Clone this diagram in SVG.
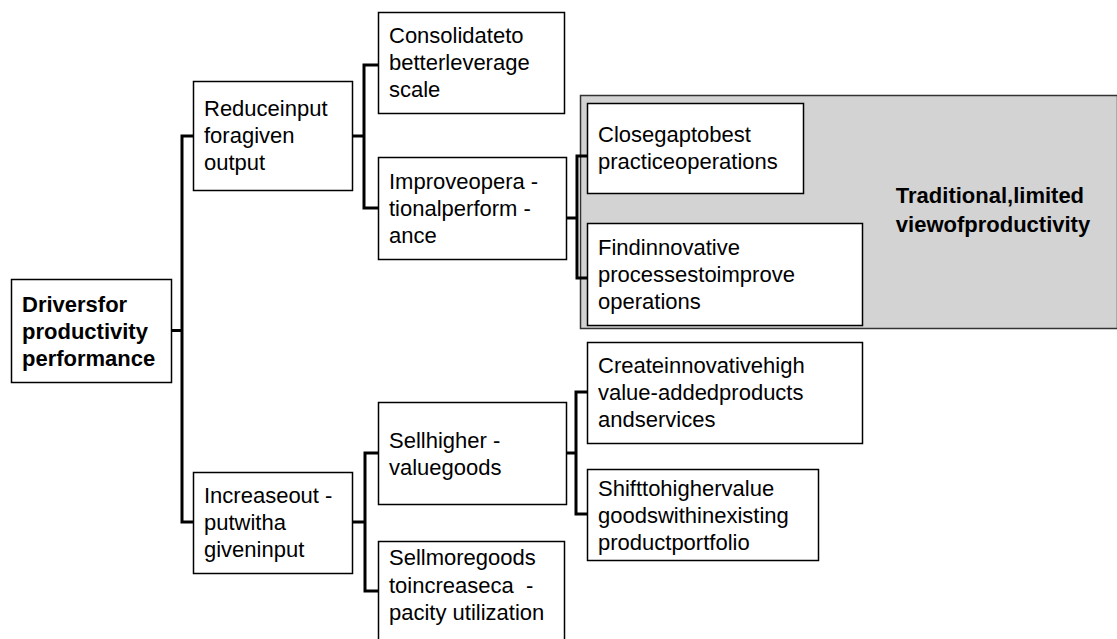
<svg xmlns="http://www.w3.org/2000/svg" width="1117" height="639" viewBox="0 0 1117 639">
  <style>
    .box { fill: #ffffff; stroke: #000000; stroke-width: 1.5; }
    .zone { fill: #d3d3d3; stroke: #333333; stroke-width: 1.5; }
    .lbl { font-family: "Liberation Sans", Arial, sans-serif; font-size: 22px; fill: #000000; }
    .pre { white-space: pre; }
    .bold { font-weight: bold; }
    .wire { fill: none; stroke: #000000; stroke-width: 3; stroke-linecap: square; }
  </style>

  <rect width="1117" height="639" fill="#ffffff"/>

  <!-- shaded area: the traditional view -->
  <g id="traditional-view">
    <rect class="zone" x="580.5" y="95.5" width="537" height="233"/>
    <text class="lbl bold" text-anchor="middle">
      <tspan x="993" y="203">Traditional,limited</tspan>
      <tspan x="993" y="232">viewofproductivity</tspan>
    </text>
  </g>

  <!-- tree connectors -->
  <g id="connectors">
    <path class="wire" d="M171 330.5 H182 M182 136 V522 M182 136 H193 M182 522 H193"/>
    <path class="wire" d="M352 136 H364 M364 65 V208 M364 65 H378 M364 208 H378"/>
    <path class="wire" d="M566 218 H577 M577 156 V278 M577 156 H587 M577 278 H587"/>
    <path class="wire" d="M352 522 H365 M365 453 V591 M365 453 H378 M365 591 H378"/>
    <path class="wire" d="M566 453 H576 M576 392 V514 M576 392 H587 M576 514 H587"/>
  </g>

  <g id="root">
    <rect class="box" x="11.5" y="279.5" width="160" height="103"/>
    <text class="lbl bold">
      <tspan x="22" y="312">Driversfor</tspan>
      <tspan x="22" y="339">productivity</tspan>
      <tspan x="22" y="366">performance</tspan>
    </text>
  </g>

  <g id="reduce-input">
    <rect class="box" x="193.5" y="81.5" width="159" height="109"/>
    <text class="lbl">
      <tspan x="204" y="116">Reduceinput</tspan>
      <tspan x="204" y="143">foragiven</tspan>
      <tspan x="204" y="170">output</tspan>
    </text>
  </g>

  <g id="increase-output">
    <rect class="box" x="193.5" y="472.5" width="159" height="101"/>
    <text class="lbl">
      <tspan x="204" y="503">Increaseout -</tspan>
      <tspan x="204" y="530">putwitha</tspan>
      <tspan x="204" y="557">giveninput</tspan>
    </text>
  </g>

  <g id="consolidate">
    <rect class="box" x="378.5" y="12.5" width="186" height="101"/>
    <text class="lbl">
      <tspan x="389" y="43">Consolidateto</tspan>
      <tspan x="389" y="70">betterleverage</tspan>
      <tspan x="389" y="97">scale</tspan>
    </text>
  </g>

  <g id="improve-operations">
    <rect class="box" x="378.5" y="157.5" width="188" height="102"/>
    <text class="lbl">
      <tspan x="389" y="189">Improveopera -</tspan>
      <tspan x="389" y="216">tionalperform -</tspan>
      <tspan x="389" y="243">ance</tspan>
    </text>
  </g>

  <g id="close-gap">
    <rect class="box" x="587.5" y="103.5" width="216" height="90"/>
    <text class="lbl">
      <tspan x="598" y="142">Closegaptobest</tspan>
      <tspan x="598" y="169">practiceoperations</tspan>
    </text>
  </g>

  <g id="find-processes">
    <rect class="box" x="587.5" y="223.5" width="275" height="102"/>
    <text class="lbl">
      <tspan x="598" y="255">Findinnovative</tspan>
      <tspan x="598" y="282">processestoimprove</tspan>
      <tspan x="598" y="309">operations</tspan>
    </text>
  </g>

  <g id="sell-higher-value">
    <rect class="box" x="378.5" y="402.5" width="188" height="102"/>
    <text class="lbl">
      <tspan x="389" y="448">Sellhigher -</tspan>
      <tspan x="389" y="475">valuegoods</tspan>
    </text>
  </g>

  <g id="sell-more">
    <rect class="box" x="378.5" y="541.5" width="186" height="110"/>
    <text class="lbl" x="389" y="565">Sellmoregoods</text>
    <text class="lbl pre" x="389" y="593">toincreaseca  -</text>
    <text class="lbl" x="389" y="620">pacity utilization</text>
  </g>

  <g id="create-products">
    <rect class="box" x="587.5" y="342.5" width="275" height="101"/>
    <text class="lbl">
      <tspan x="598" y="373">Createinnovativehigh</tspan>
      <tspan x="598" y="400">value-addedproducts</tspan>
      <tspan x="598" y="427">andservices</tspan>
    </text>
  </g>

  <g id="shift-portfolio">
    <rect class="box" x="587.5" y="469.5" width="231" height="91"/>
    <text class="lbl">
      <tspan x="598" y="496">Shifttohighervalue</tspan>
      <tspan x="598" y="523">goodswithinexisting</tspan>
      <tspan x="598" y="550">productportfolio</tspan>
    </text>
  </g>
</svg>
